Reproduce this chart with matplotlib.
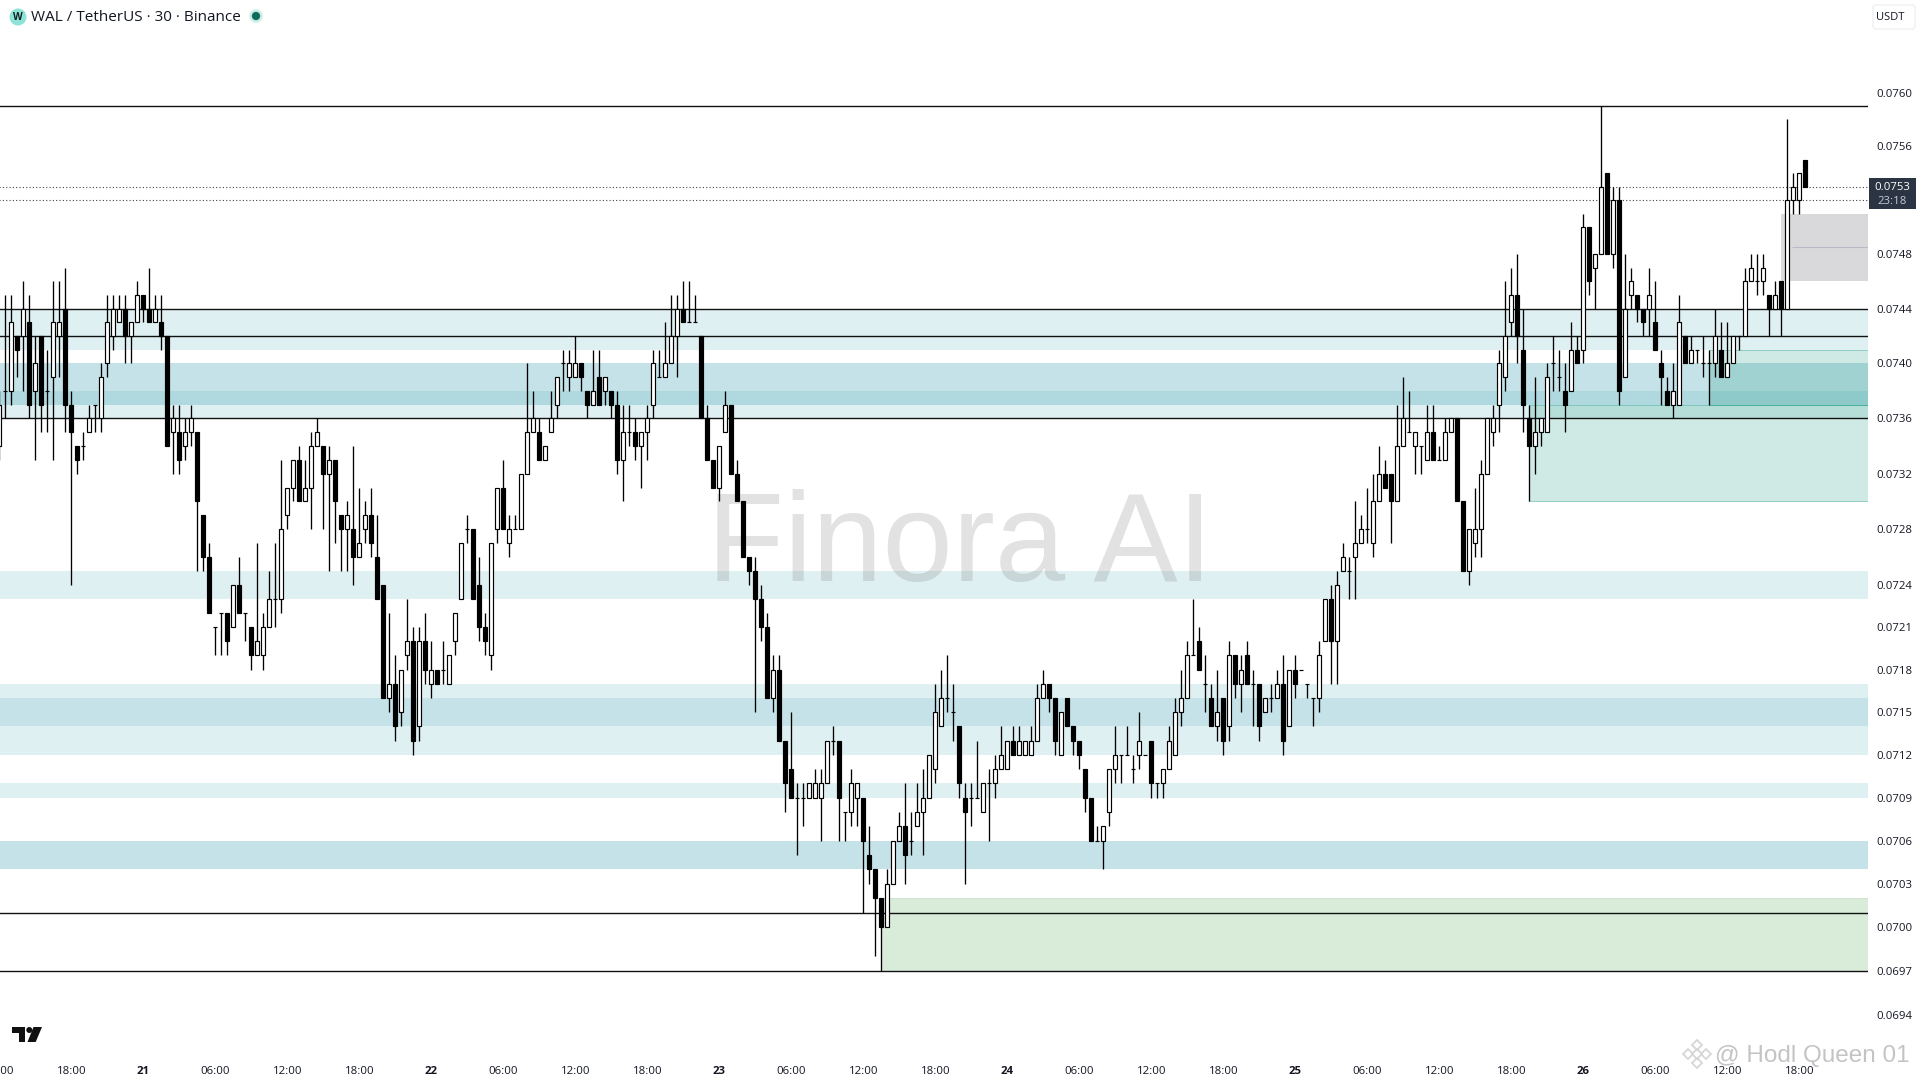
import numpy as np
import matplotlib
matplotlib.use("Agg")
import matplotlib.pyplot as plt
from matplotlib.patches import Rectangle, Circle, Polygon, FancyBboxPatch

# Candle values in units of 0.0001 USDT
opens = [
734,738,738,742,742,743,738,742,738,739, 742,744,737,734,734,735,737,736,740,742,
743,744,742,743,745,744,743,743,742,735, 735,734,735,735,729,726,721,722,722,721,
724,722,721,719,719,721,723,723,729,731, 733,730,731,734,734,732,733,729,728,728,
726,728,729,726,724,716,717,715,719,720, 714,720,717,718,718,717,720,723,728,728,
724,721,719,728,731,727,728,728,732,735, 735,733,735,737,740,739,739,740,738,737,
739,738,738,737,733,735,735,734,735,737, 739,739,740,742,744,743,743,742,736,733,
731,735,737,732,730,726,725,723,721,716, 718,713,711,709,709,709,709,709,710,713,
713,708,708,709,709,705,704,702,700,703, 706,707,706,707,708,709,711,714,716,715,
714,709,709,709,708,710,710,711,711,713, 712,712,712,713,716,717,716,712,716,714,
713,711,709,706,706,708,711,712,712,711, 712,712,713,710,710,711,712,715,716,719,
720,717,716,714,716,714,719,717,719,717, 717,715,716,716,717,714,718,718,717,716,
716,720,723,720,725,725,726,727,728,727, 730,732,732,730,734,735,734,734,733,735,
733,733,735,736,730,725,727,728,732,735, 737,739,743,745,741,736,734,735,735,740,
739,738,738,741,741,750,747,748,754,748, 752,739,745,745,744,744,743,740,738,737,
737,742,740,741,740,740,740,741,739,740, 742,742,746,746,746,745,744,746,744,752,
752,755]
closes = [
737,738,743,741,744,737,740,737,738,743, 743,737,735,733,734,736,737,739,743,744,
744,742,743,745,744,743,744,742,734,736, 733,735,736,730,726,722,721,722,720,724,
722,722,719,720,721,723,723,728,731,733, 730,731,734,735,732,733,730,728,729,726,
727,729,727,723,716,717,714,718,720,713, 720,718,718,717,718,719,722,727,728,723,
721,720,727,731,728,728,728,732,735,736, 733,734,736,739,740,740,740,739,737,738,
737,739,737,733,735,735,734,735,736,740, 739,740,742,744,743,743,743,736,733,731,
734,737,732,730,726,725,723,721,716,718, 713,710,709,709,709,710,710,710,713,713,
709,708,710,710,706,704,702,700,703,706, 707,705,706,708,709,712,715,716,716,715,
710,708,709,709,710,710,711,712,713,712, 713,713,713,716,717,716,713,715,714,713,
712,709,706,706,707,711,712,712,712,711, 713,712,710,710,711,713,715,716,719,719,
718,717,714,715,713,719,717,718,717,717, 714,716,716,717,713,718,717,718,717,716,
719,723,720,724,726,725,727,728,728,730, 732,731,730,734,736,735,735,734,735,733,
733,735,736,730,725,728,728,732,736,736, 740,742,745,742,737,734,735,736,739,740,
739,737,741,740,750,746,748,753,748,752, 738,744,746,744,743,745,741,739,737,738,
743,740,741,741,740,740,742,739,740,742, 742,746,747,746,747,744,745,744,752,753,
754,753]
highs = [
738,745,745,742,746,745,742,742,741,746, 746,747,738,734,735,737,737,740,745,745,
745,745,743,746,745,747,745,745,742,737, 737,736,737,735,729,727,721,722,722,724,
726,722,721,727,722,725,727,733,731,733, 734,733,735,736,734,734,733,729,730,734,
731,730,731,729,724,722,719,718,723,721, 721,722,720,718,720,719,722,727,729,728,
726,722,727,731,733,729,729,732,740,738, 736,734,738,739,741,741,742,740,738,741,
741,739,738,738,737,737,736,735,737,741, 741,743,745,745,746,746,745,742,737,733,
734,738,737,733,730,726,726,724,722,719, 719,713,715,710,710,710,711,711,713,714,
713,708,711,710,709,707,704,702,704,706, 708,710,708,710,711,712,717,718,719,717,
714,710,710,713,710,711,712,714,713,714, 714,713,714,717,718,717,716,715,716,714,
713,711,709,707,707,711,714,712,714,712, 715,712,713,710,711,714,716,718,720,723,
721,719,717,718,716,720,719,719,720,718, 717,716,717,718,719,718,719,718,717,716,
720,723,724,725,727,726,730,729,731,732, 734,733,732,737,739,738,735,734,737,737,
734,736,736,736,730,728,731,733,736,737, 741,746,747,748,744,737,739,736,740,742,
741,740,743,742,751,750,748,759,754,753, 753,748,747,745,744,747,746,741,739,740,
745,742,742,741,742,741,744,743,743,742, 742,747,748,748,748,745,746,746,758,754,
754,755]
lows = [
733,736,737,739,738,736,733,735,735,733, 739,735,724,732,733,735,735,735,739,741,
743,740,740,743,743,743,743,741,734,732, 732,733,734,725,725,722,719,719,719,721,
722,720,718,719,718,721,721,722,728,730, 730,730,728,734,728,725,727,725,725,724,
726,727,726,723,716,715,713,714,718,712, 713,717,716,717,717,717,719,723,727,723,
720,719,718,727,728,726,728,728,732,735, 733,733,735,736,738,738,739,738,736,737,
737,737,736,732,730,734,733,731,733,736, 739,739,740,739,743,743,743,736,733,731,
730,735,732,730,726,724,715,720,716,715, 713,708,709,705,707,709,709,706,710,712,
706,706,707,707,701,703,698,697,700,703, 706,703,705,707,705,709,710,714,715,713,
709,703,707,709,708,706,709,711,711,712, 712,712,712,713,716,715,712,712,714,712,
711,708,706,706,704,707,710,710,712,710, 711,712,709,709,709,711,712,714,716,719,
718,715,714,713,712,713,716,715,717,714, 713,715,715,716,712,714,716,718,716,714,
715,720,717,717,725,723,723,727,727,726, 730,731,727,730,734,735,732,732,733,733,
733,733,735,730,725,724,726,726,732,734, 735,738,742,740,735,730,732,734,735,738,
738,735,738,740,740,745,744,748,748,747, 737,739,744,743,742,742,741,737,737,736,
737,740,740,740,739,737,739,739,739,740, 741,742,746,745,745,742,744,742,744,751,
751,753]

time_ticks = list(range(0, 301, 12))
time_labels = ["12:00","18:00",
               "21","06:00","12:00","18:00","22","06:00","12:00","18:00",
               "23","06:00","12:00","18:00","24","06:00","12:00","18:00",
               "25","06:00","12:00","18:00","26","06:00","12:00","18:00"]
price_ticks = [760,756,748,744,740,736,732,728,724,721,718,715,712,709,706,703,700,697,694]

solid_levels = [759,744,742,736,701,697]
dotted_levels = [753,752]
light_zones = [(741,744),(736,738),(723,725),(716,717),(712,714),(709,710)]
medium_zones = [(737,740),(714,716),(704,706)]

assert len(opens)==len(closes)==len(highs)==len(lows), (len(opens),len(closes),len(highs),len(lows))

W, H = 1920, 1080
TICK = 1e-4
PPU = 10148.0
def px_to_price(y):
    return 0.0760*np.exp(-(y-92.7)/PPU)
def px_to_k(x):
    return (x+0.67)/6.0

plt.rcParams['font.family'] = ['Open Sans', 'DejaVu Sans']
fig = plt.figure(figsize=(W/100, H/100), dpi=100, facecolor='white')
AX_L, AX_R, AX_B = -6, 1868, 1055
ax = fig.add_axes([AX_L/W, 1-AX_B/H, (AX_R-AX_L)/W, AX_B/H])
ax.set_yscale('log')
ax.set_ylim(px_to_price(AX_B), px_to_price(0))
ax.set_xlim(px_to_k(AX_L), px_to_k(AX_R))
for s in ax.spines.values():
    s.set_visible(False)
ax.yaxis.tick_right()
ax.set_yticks([p*TICK for p in price_ticks])
ax.set_yticklabels([f"{p*TICK:.4f}" for p in price_ticks], fontsize=8.2, color='#131722')
ax.yaxis.set_minor_locator(matplotlib.ticker.NullLocator())
ax.tick_params(axis='y', length=0, pad=6.0)
ax.set_xticks(time_ticks)
ax.set_xticklabels(time_labels, fontsize=8.2, color='#131722')
for lab in ax.get_xticklabels():
    if len(lab.get_text()) == 2:
        lab.set_fontweight('bold')
ax.tick_params(axis='x', length=0, pad=7.6)

# zones
BLUE = (83/255, 172/255, 188/255)
for lo, hi in light_zones:
    ax.axhspan(lo*TICK, hi*TICK, color=BLUE, alpha=0.18, lw=0, zorder=1)
for lo, hi in medium_zones:
    ax.axhspan(lo*TICK, hi*TICK, color=BLUE, alpha=0.34, lw=0, zorder=1)

xr = px_to_k(AX_R)
def box(k0, lo, hi, face, edge=None, z=1.5):
    ax.add_patch(Rectangle((k0, lo*TICK), xr-k0, (hi-lo)*TICK, facecolor=face,
                           edgecolor=edge if edge else 'none', lw=0.7, zorder=z))
box(147, 697, 702, '#d9ecd9', '#cde5cd')
TEAL = (15/255, 150/255, 120/255, 0.20)
TEDGE = (15/255, 150/255, 120/255, 0.40)
box(255, 730, 737, TEAL, TEDGE)
box(285, 737, 741, TEAL, TEDGE)
box(297, 746, 751, '#d9d9db')
ax.hlines(748.5*TICK, 298.8, xr, color='#bdb8c6', lw=0.8, zorder=1.6)

# levels
ax.hlines([v*TICK for v in solid_levels], px_to_k(AX_L), xr, color='#111111', lw=1.0, zorder=2)
ax.hlines([v*TICK for v in dotted_levels], px_to_k(AX_L), xr, color='#444444', lw=0.8,
          linestyles=(0, (1, 2)), zorder=2)

# watermark
ax.text(px_to_k(960), px_to_price(548), "Finora AI", fontsize=91, family='Liberation Sans',
        color=(0.43, 0.43, 0.45, 0.20), ha='center', va='center', zorder=2.5)

# candles
o = np.array(opens); c = np.array(closes); h = np.array(highs); l = np.array(lows)
k = np.arange(len(o))
ax.vlines(k, l*TICK, h*TICK, color='black', lw=0.95, zorder=3)
up = c >= o
ax.bar(k[up], (c[up]-o[up])*TICK, bottom=o[up]*TICK, width=0.68, facecolor='white',
       edgecolor='black', lw=0.85, zorder=4)
ax.bar(k[~up], (o[~up]-c[~up])*TICK, bottom=c[~up]*TICK, width=0.68, facecolor='black',
       edgecolor='black', lw=0.85, zorder=4)

# overlay in pixel space
ov = fig.add_axes([0, 0, 1, 1], zorder=10)
ov.set_xlim(0, W); ov.set_ylim(H, 0); ov.axis('off'); ov.patch.set_alpha(0)

ov.add_patch(Rectangle((1869, 178), 47, 31, facecolor='#2a3442', edgecolor='none'))
ov.text(1892.5, 187.5, "0.0753", fontsize=8.2, color='white', ha='center', va='center')
ov.text(1892.5, 201.5, "23:18", fontsize=8.2, color='#c6cad2', ha='center', va='center')

ov.add_patch(FancyBboxPatch((1875, 7), 38, 20, boxstyle="round,pad=2,rounding_size=3",
                            facecolor='white', edgecolor='#eceef1', lw=0.9))
ov.text(1890, 17, "USDT", fontsize=8, color='#131722', ha='center', va='center')

ov.add_patch(Circle((18, 17), 8.5, facecolor='#8de3d6', edgecolor='none'))
ov.text(18, 17, "W", fontsize=7.2, fontweight='bold', color='#10201e', ha='center', va='center')
ov.text(31, 17.5, "WAL / TetherUS · 30 · Binance", fontsize=10.95, color='#131722', ha='left', va='center')
ov.add_patch(Circle((256, 16), 7, facecolor='#d3efe9', edgecolor='none'))
ov.add_patch(Circle((256, 16), 4.2, facecolor='#0f6d5e', edgecolor='none'))

# TradingView mark
ov.add_patch(Polygon([(12,1027),(25.3,1027),(25.3,1042),(18.7,1042),(18.7,1033),(12,1033)],
                     facecolor='#111111', edgecolor='none'))
ov.add_patch(Circle((29.3, 1030), 3, facecolor='#111111', edgecolor='none'))
ov.add_patch(Polygon([(33.5,1027),(42,1027),(35.7,1042),(27.5,1042)], facecolor='#111111', edgecolor='none'))

# source mark
for cx, cy in [(1697,1054),(1688,1054),(1706,1054),(1697,1045),(1697,1063)]:
    r = 5
    ov.add_patch(Polygon([(cx-r,cy),(cx,cy-r),(cx+r,cy),(cx,cy+r)], closed=True,
                         facecolor='none', edgecolor='#d6d6d6', lw=1.3))
ov.text(1715, 1056, "@ Hodl Queen 01", fontsize=17.5, family='Liberation Sans',
        color='#c4c4c4', ha='left', va='center')

fig.savefig("out.png", dpi=100, facecolor='white')
